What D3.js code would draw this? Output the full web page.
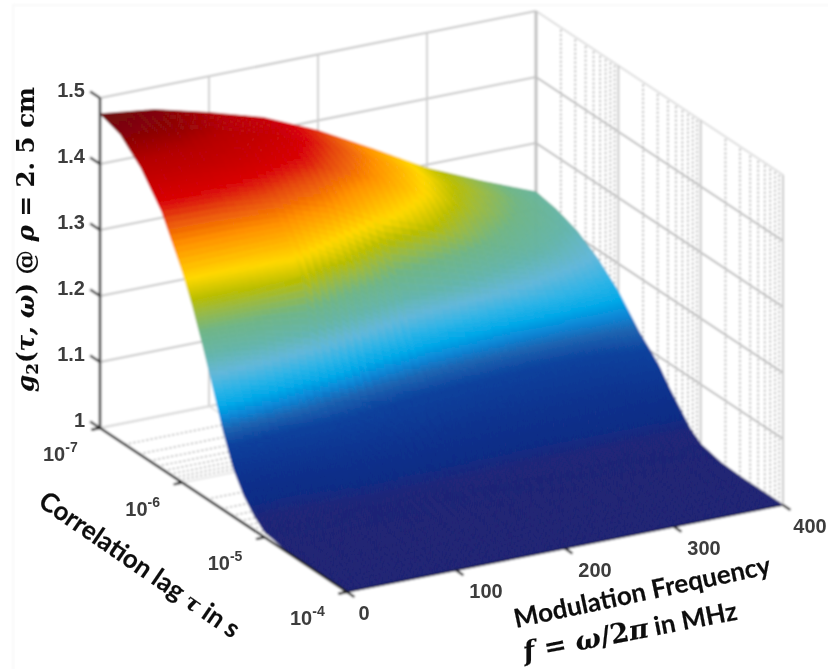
<!DOCTYPE html>
<html>
<head>
<meta charset="utf-8">
<script src="https://cdn.jsdelivr.net/npm/d3@7"></script>
<style>
  html, body { margin: 0; padding: 0; background: #fff; }
  svg { display: block; }
  .tick-label { font-family: "Liberation Sans", sans-serif; font-size: 20px; font-weight: 700; fill: #3c3c3c; }
  .title-sans { font-family: Lato, sans-serif; font-weight: 700; fill: #111; stroke: #111; stroke-width: 0.15px; }
  .title-math { font-family: "DejaVu Serif", serif; font-weight: 700; fill: #111; stroke: #111; stroke-width: 0.1px; }
</style>
</head>
<body>
<div id="chart"></div>
<script>
// values
const freqs = [0, 50, 100, 150, 200, 250, 300, 350, 400]; // MHz
const tauExps = [-7, -6.75, -6.5, -6.25, -6, -5.875, -5.75, -5.625, -5.5, -5.375, -5.25, -5.125, -5, -4.75, -4.5, -4.25, -4];
// one row per tauExp, one column per freq
const g2Rows = [
  [1.476, 1.466, 1.445, 1.421, 1.385, 1.341, 1.295, 1.259, 1.226],
  [1.465, 1.457, 1.438, 1.415, 1.378, 1.335, 1.290, 1.255, 1.220],
  [1.435, 1.430, 1.415, 1.395, 1.360, 1.320, 1.275, 1.240, 1.208],
  [1.390, 1.387, 1.377, 1.355, 1.315, 1.285, 1.245, 1.215, 1.187],
  [1.320, 1.322, 1.325, 1.285, 1.225, 1.205, 1.185, 1.170, 1.158],
  [1.278, 1.282, 1.290, 1.215, 1.165, 1.150, 1.140, 1.138, 1.138],
  [1.228, 1.220, 1.195, 1.145, 1.125, 1.115, 1.110, 1.110, 1.118],
  [1.174, 1.155, 1.128, 1.110, 1.098, 1.093, 1.090, 1.090, 1.102],
  [1.118, 1.105, 1.100, 1.090, 1.080, 1.075, 1.072, 1.072, 1.085],
  [1.072, 1.068, 1.075, 1.068, 1.060, 1.057, 1.055, 1.055, 1.062],
  [1.042, 1.040, 1.050, 1.047, 1.042, 1.040, 1.040, 1.040, 1.042],
  [1.022, 1.022, 1.028, 1.027, 1.024, 1.022, 1.022, 1.022, 1.022],
  [1.008, 1.008, 1.012, 1.012, 1.011, 1.010, 1.010, 1.010, 1.010],
  [1.002, 1.002, 1.002, 1.002, 1.002, 1.002, 1.002, 1.002, 1.002],
  [1.000, 1.000, 1.000, 1.000, 1.000, 1.000, 1.000, 1.000, 1.000],
  [1.000, 1.000, 1.000, 1.000, 1.000, 1.000, 1.000, 1.000, 1.000],
  [1.000, 1.000, 1.000, 1.000, 1.000, 1.000, 1.000, 1.000, 1.000]
];
const zTicks = [1, 1.1, 1.2, 1.3, 1.4, 1.5];
const zTickLabels = ["1", "1.1", "1.2", "1.3", "1.4", "1.5"];
const fTicks = [0, 100, 200, 300, 400];
const tauTicks = [1e-7, 1e-6, 1e-5, 1e-4];
const tauTickExps = ["-7", "-6", "-5", "-4"];
const tauMinor = d3.range(-7, -4).flatMap(e => d3.range(2, 10).map(m => m * Math.pow(10, e)));

// colour stops along g2
const colorStops = [1.0, 1.02, 1.035, 1.06, 1.1, 1.12, 1.135, 1.15, 1.17, 1.19, 1.215, 1.245, 1.27, 1.285, 1.31, 1.35, 1.38, 1.4, 1.44, 1.476];
const colorValues = ["#1e2272", "#1c2478", "#0d2a84", "#0a2f8c", "#0b3f9c", "#1c62b0", "#0a86d6", "#00a8e8", "#30b4e6", "#62b7da", "#64b5aa", "#6fb586", "#9dba3c", "#b8bd00", "#ffd800", "#ff9000", "#e6480c", "#d80006", "#b40004", "#6a0808"];

const W = 828, H = 669;

const fScale = d3.scaleLinear().domain([0, 400]).range([0, 1]);
const tauScale = d3.scaleLog().domain([1e-7, 1e-4]).range([0, 1]);
const zScale = d3.scaleLinear().domain([1, 1.5]).range([0, 1]);
const color = d3.scaleLinear().domain(colorStops).range(colorValues).clamp(true);

// orthographic view: unit box to screen
function proj(F, t, z) {
  return [100 + 247 * t + 436 * F, 428 + 164 * t - 87 * F - 330 * z];
}
function pt(f, tau, g) {
  return proj(fScale(f), tauScale(tau), zScale(g));
}
const poly = d3.line();

const svg = d3.select("#chart").append("svg").attr("width", W).attr("height", H);
const defs = svg.append("defs");
defs.append("filter").attr("id", "soft").attr("x", "-2%").attr("y", "-2%").attr("width", "104%").attr("height", "104%")
  .append("feGaussianBlur").attr("stdDeviation", 1);
defs.append("filter").attr("id", "softText").attr("x", "-2%").attr("y", "-2%").attr("width", "104%").attr("height", "104%")
  .append("feGaussianBlur").attr("stdDeviation", 0.7);

const root = svg.append("g").attr("filter", "url(#soft)");
const textLayer = svg.append("g").attr("filter", "url(#softText)");

root.append("rect").attr("x", 13).attr("y", 5).attr("width", 830).attr("height", 680)
  .attr("fill", "#fff").attr("stroke", "#f6f6f6").attr("stroke-width", 1.5);

// -----------------------------
// walls and floor
// -----------------------------
const grid = root.append("g").attr("fill", "none");
function gridLine(a, b, col, w, dash) {
  grid.append("path").attr("d", poly([a, b])).attr("stroke", col).attr("stroke-width", w)
    .attr("stroke-dasharray", dash || null);
}
const tau0 = 1e-7, tau1 = 1e-4;

// minor dotted lines, wall then floor
tauMinor.forEach(t => {
  gridLine(pt(400, t, 1), pt(400, t, 1.5), "#a0a0a0", 1.6, "2,2.4");
  gridLine(pt(0, t, 1), pt(400, t, 1), "#a8a8a8", 1.5, "2,2.4");
});
// z lines on both walls
zTicks.forEach(z => {
  gridLine(pt(0, tau0, z), pt(400, tau0, z), "#c8c8c8", 2);
  gridLine(pt(400, tau0, z), pt(400, tau1, z), z === 1.5 ? "#dcdcdc" : "#bcbcbc", 2);
});
// frequency verticals on the back wall, along the floor too
fTicks.forEach(f => {
  gridLine(pt(f, tau0, 1), pt(f, tau0, 1.5), f === 400 ? "#c0c0c0" : "#d0d0d0", f === 400 ? 3 : 2);
  gridLine(pt(f, tau0, 1), pt(f, tau1, 1), "#dcdcdc", 1.4);
});
// decade lines on the right wall and floor
tauTicks.forEach(t => {
  if (t !== tau0) gridLine(pt(400, t, 1), pt(400, t, 1.5), "#c8c8c8", 2);
  gridLine(pt(0, t, 1), pt(400, t, 1), "#dcdcdc", 1.4);
});

// -----------------------------
// surface, painted back to front
// -----------------------------
const surface = root.append("g");
const SUB_F = 6, SUB_T = 10;
for (let r = 0; r < tauExps.length - 1; r++) {
  for (let c = freqs.length - 2; c >= 0; c--) {
    const t0 = tauScale(Math.pow(10, tauExps[r])), t1 = tauScale(Math.pow(10, tauExps[r + 1]));
    const F0 = fScale(freqs[c]), F1 = fScale(freqs[c + 1]);
    const g00 = g2Rows[r][c], g01 = g2Rows[r][c + 1], g10 = g2Rows[r + 1][c], g11 = g2Rows[r + 1][c + 1];
    // shading interp inside the cell, as surf does
    const at = (u, v) => {
      const g = (g00 * (1 - u) + g01 * u) * (1 - v) + (g10 * (1 - u) + g11 * u) * v;
      return { g, p: proj(F0 + (F1 - F0) * u, t0 + (t1 - t0) * v, zScale(g)) };
    };
    for (let j = 0; j < SUB_T; j++) {
      for (let i = SUB_F - 1; i >= 0; i--) {
        const a = at(i / SUB_F, j / SUB_T), b = at((i + 1) / SUB_F, j / SUB_T);
        const d = at((i + 1) / SUB_F, (j + 1) / SUB_T), e = at(i / SUB_F, (j + 1) / SUB_T);
        const col = color((a.g + b.g + d.g + e.g) / 4);
        surface.append("path")
          .attr("d", poly([a.p, b.p, d.p, e.p]) + "Z")
          .attr("fill", col).attr("stroke", col).attr("stroke-width", 0.7);
      }
    }
  }
}

// -----------------------------
// axes
// -----------------------------
const axes = root.append("g").attr("fill", "none").attr("stroke", "#1a1a1a");
axes.append("path").attr("d", poly([pt(0, tau0, 1), pt(0, tau0, 1.5)])).attr("stroke", "#333").attr("stroke-width", 2.6);
axes.append("path").attr("d", poly([pt(0, tau0, 1), pt(0, tau1, 1)])).attr("stroke-width", 2.6);
axes.append("path").attr("d", poly([pt(0, tau1, 1), pt(400, tau1, 1)])).attr("stroke", "#10103a").attr("stroke-width", 1.6);

zTicks.forEach(z => {
  const a = proj(0, 0, zScale(z)), b = proj(0, -0.04, zScale(z));
  axes.append("path").attr("d", poly([a, b])).attr("stroke", "#333").attr("stroke-width", 2.4);
});
tauTicks.forEach(t => {
  const T = tauScale(t);
  axes.append("path").attr("d", poly([proj(0, T, 0), proj(-0.02, T, 0)])).attr("stroke-width", 2.4);
});
fTicks.forEach(f => {
  const F = fScale(f);
  axes.append("path").attr("d", poly([proj(F, 1, 0), proj(F, 1.03, 0)])).attr("stroke-width", 2.4);
});

// tick labels
const labels = textLayer.append("g");
zTicks.forEach((z, i) => {
  const p = proj(0, 0, zScale(z));
  labels.append("text").attr("class", "tick-label").attr("text-anchor", "end")
    .attr("x", p[0] - 15).attr("y", p[1] - 1).text(zTickLabels[i]);
});
tauTicks.forEach((t, i) => {
  const p = proj(0, tauScale(t), 0);
  const txt = labels.append("text").attr("class", "tick-label").attr("x", p[0] - 57).attr("y", p[1] + 33).text("10");
  txt.append("tspan").attr("dy", -9).attr("font-size", 14).text(tauTickExps[i]);
});
fTicks.forEach(f => {
  const p = proj(fScale(f), 1, 0);
  labels.append("text").attr("class", "tick-label").attr("text-anchor", "middle")
    .attr("x", p[0] + (f === 0 ? 17 : f === 400 ? 27 : 30)).attr("y", p[1] + 28).text(f);
});

// axis titles
const zTitle = textLayer.append("text").attr("class", "title-math").attr("font-size", 24.5)
  .attr("transform", "translate(34,392) rotate(-90)");
zTitle.append("tspan").attr("font-style", "italic").text("g");
zTitle.append("tspan").attr("font-size", 17).attr("dy", 4).text("2");
zTitle.append("tspan").attr("dy", -4).text("(");
zTitle.append("tspan").attr("font-style", "italic").text("τ, ω");
zTitle.append("tspan").text(") @ ");
zTitle.append("tspan").attr("font-style", "italic").text("ρ");
zTitle.append("tspan").text(" = 2. 5 cm");

const tauTitle = textLayer.append("text").attr("class", "title-sans").attr("font-size", 26)
  .attr("transform", "translate(37,505) rotate(34.5)");
tauTitle.append("tspan").text("Correlation lag ");
tauTitle.append("tspan").attr("class", "title-math").attr("font-style", "italic").attr("font-size", 22).text("τ");
tauTitle.append("tspan").text(" in s");

textLayer.append("text").attr("class", "title-sans").attr("font-size", 26)
  .attr("transform", "translate(516,628) rotate(-12)").text("Modulation Frequency");

const fTitle = textLayer.append("text").attr("class", "title-sans").attr("font-size", 26)
  .attr("transform", "translate(525,661) rotate(-11)");
fTitle.append("tspan").attr("class", "title-math").attr("font-style", "italic").attr("font-size", 27).text("f");
fTitle.append("tspan").attr("class", "title-math").attr("font-size", 27).text(" = ");
fTitle.append("tspan").attr("class", "title-math").attr("font-style", "italic").attr("font-size", 27).text("ω");
fTitle.append("tspan").attr("class", "title-math").attr("font-size", 27).text("/2");
fTitle.append("tspan").attr("class", "title-math").attr("font-style", "italic").attr("font-size", 27).text("π");
fTitle.append("tspan").text(" in MHz");
</script>
</body>
</html>
